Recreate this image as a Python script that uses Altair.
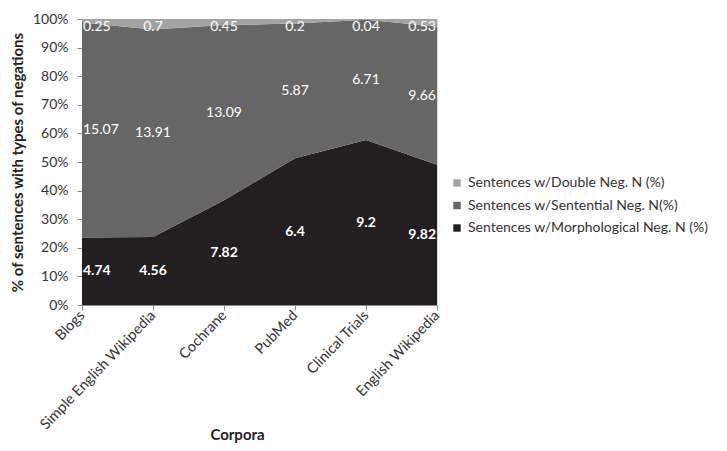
import altair as alt
import pandas as pd

corpora = ["Blogs", "Simple English Wikipedia", "Cochrane", "PubMed", "Clinical Trials", "English Wikipedia"]
morph = [4.74, 4.56, 7.82, 6.4, 9.2, 9.82]
sentential = [15.07, 13.91, 13.09, 5.87, 6.71, 9.66]
double = [0.25, 0.7, 0.45, 0.2, 0.04, 0.53]
y_ticks = [0, 0.1, 0.2, 0.3, 0.4, 0.5, 0.6, 0.7, 0.8, 0.9, 1.0]

s_double = "Sentences w/Double Neg. N (%)"
s_sent = "Sentences w/Sentential Neg. N(%)"
s_morph = "Sentences w/Morphological Neg. N (%)"
series_names = [s_double, s_sent, s_morph]
series_colors = ["#a3a3a3", "#666666", "#231f20"]

rows = []
for i, c in enumerate(corpora):
    rows.append({"corpus": c, "series": s_morph, "value": morph[i], "rank": 0, "idx": i})
    rows.append({"corpus": c, "series": s_sent, "value": sentential[i], "rank": 1, "idx": i})
    rows.append({"corpus": c, "series": s_double, "value": double[i], "rank": 2, "idx": i})
df = pd.DataFrame(rows)

FONT = "Lato"

xaxis = alt.Axis(title="Corpora", labelAngle=-46, labelFontSize=14.5, labelColor="#333333",
                 titleFontSize=15, titleFontWeight="bold", titleColor="#222222",
                 domainColor="#8a8a8a", tickColor="#8a8a8a", tickSize=5,
                 labelPadding=3, titleX=155, titleY=129, titleBaseline="middle")
yaxis = alt.Axis(title="% of sentences with types of negations", format=".0%",
                 values=y_ticks, grid=False, labelOverlap=False, tickCount=11,
                 labelFontSize=14, labelColor="#333333", labelPadding=9,
                 titleFontSize=15, titleFontWeight="bold", titleColor="#222222",
                 domainColor="#8a8a8a", tickColor="#8a8a8a", tickSize=5,
                 titleX=-65, titleY=143, titleBaseline="middle")
xscale = alt.Scale(padding=0)
yscale = alt.Scale(domain=[0, 1], nice=False)

area = alt.Chart(df).mark_area(opacity=1, line=False).encode(
    x=alt.X("corpus:N", sort=corpora, scale=xscale, axis=xaxis),
    y=alt.Y("value:Q", stack="normalize", scale=yscale, axis=yaxis),
    color=alt.Color("series:N", scale=alt.Scale(domain=series_names, range=series_colors),
                    legend=alt.Legend(title=None, orient="none", legendX=368, legendY=157,
                                      symbolType="square", symbolSize=55, symbolStrokeWidth=0,
                                      labelFontSize=14, labelColor="#333333", rowPadding=8.5,
                                      labelOffset=4, labelLimit=400)),
    order=alt.Order("rank:Q", sort="ascending"),
)

base_text = alt.Chart(df).transform_stack(
    stack="value", groupby=["corpus"], as_=["v0", "v1"], offset="normalize",
    sort=[alt.SortField("rank", order="ascending")]
).transform_calculate(
    ypos="min((datum.v0 + datum.v1) / 2, 0.973)"
)

def label_layer(filter_expr, align, dx, bold):
    return base_text.transform_filter(filter_expr).mark_text(
        align=align, baseline="middle", dx=dx, color="white", fontSize=14,
        fontWeight="bold" if bold else "normal", font=FONT
    ).encode(
        x=alt.X("corpus:N", sort=corpora, scale=xscale, axis=xaxis),
        y=alt.Y("ypos:Q", scale=yscale, axis=yaxis),
        text=alt.Text("value:Q"),
    )

layers = []
for bold, sfilter in [(True, "datum.rank == 0"), (False, "datum.rank > 0")]:
    layers.append(label_layer(f"{sfilter} && datum.idx == 0", "left", 1, bold))
    layers.append(label_layer(f"{sfilter} && datum.idx > 0 && datum.idx < 5", "center", 0, bold))
    layers.append(label_layer(f"{sfilter} && datum.idx == 5", "right", -1, bold))

chart = alt.layer(area, *layers).properties(
    width=355, height=286,
    autosize=alt.AutoSizeParams(type="none"),
    padding={"left": 74, "top": 11, "right": 282, "bottom": 138},
    background="white",
).configure_view(stroke=None).configure(font=FONT)

chart.save("out.html", embed_options={"renderer": "svg", "actions": False})
